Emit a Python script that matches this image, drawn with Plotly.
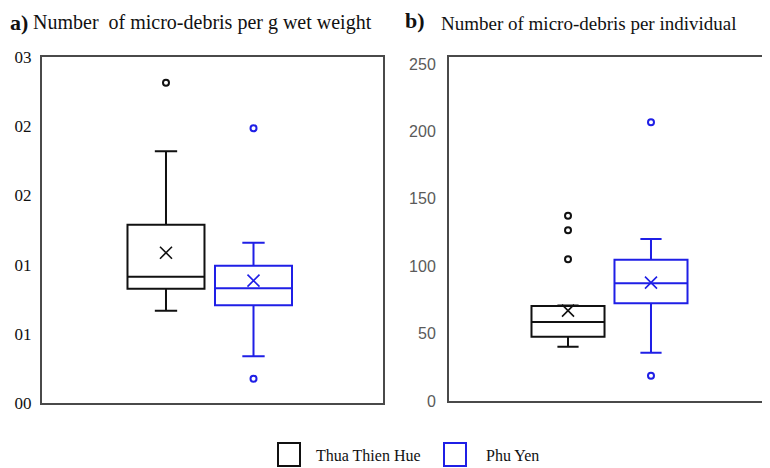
import plotly.graph_objects as go

# ---------------- data ----------------
sites = ["Thua Thien Hue", "Phu Yen"]
colors = ["#111111", "#1f1fe6"]

# panel a: number of micro-debris per g wet weight
a_q1 = [0.00826, 0.00706]
a_median = [0.00913, 0.00829]
a_q3 = [0.01288, 0.00992]
a_lower = [0.00667, 0.00337]
a_upper = [0.01819, 0.01158]
a_mean = [0.01086, 0.00884]
a_outliers = [[0.02314], [0.01985, 0.00176]]
a_tickvals = [0, 0.005, 0.01, 0.015, 0.02, 0.025]
a_ticktext = ["00", "01", "01", "02", "02", "03"]

# panel b: number of micro-debris per individual
b_q1 = [47.7, 72.5]
b_median = [58.6, 87.3]
b_q3 = [70.5, 104.8]
b_lower = [40.3, 35.8]
b_upper = [70.8, 120.2]
b_mean = [67.0, 87.8]
b_outliers = [[137.5, 126.6, 105.1], [206.8, 18.8]]
b_tickvals = [0, 50, 100, 150, 200, 250]

fig = go.Figure()

def add_panel(q1, med, q3, lo, up, mean, outl, xa, ya):
    for i, s in enumerate(sites):
        c = colors[i]
        fig.add_trace(go.Box(
            x=[s], q1=[q1[i]], median=[med[i]], q3=[q3[i]],
            lowerfence=[lo[i]], upperfence=[up[i]],
            name=s, marker_color=c, line=dict(color=c, width=2),
            fillcolor="rgba(255,255,255,0)", whiskerwidth=0.29,
            boxpoints=False, showlegend=False, xaxis=xa, yaxis=ya,
            hoverinfo="skip"))
        fig.add_trace(go.Scatter(
            x=[s], y=[mean[i]], mode="markers",
            marker=dict(symbol="x-thin", size=12, line=dict(color=c, width=1.6), color=c),
            showlegend=False, xaxis=xa, yaxis=ya, hoverinfo="skip"))
        fig.add_trace(go.Scatter(
            x=[s] * len(outl[i]), y=outl[i], mode="markers",
            marker=dict(symbol="circle-open", size=6, line=dict(color=c, width=2), color=c),
            showlegend=False, xaxis=xa, yaxis=ya, hoverinfo="skip"))

add_panel(a_q1, a_median, a_q3, a_lower, a_upper, a_mean, a_outliers, "x", "y")
add_panel(b_q1, b_median, b_q3, b_lower, b_upper, b_mean, b_outliers, "x2", "y2")

OFF = 8  # page body margin
W, H = 770 - OFF, 468 - OFF
L, R, T, B = 42 - OFF, 0, 57 - OFF, 65
pw, ph = W - L - R, H - T - B

def px(xp):  # page pixel -> paper x
    return (xp - OFF - L) / pw

def py(yp):  # page pixel -> paper y
    return (H - B - (yp - OFF)) / ph

frame = "#4a4a4a"
serif = "Liberation Serif"

fig.update_layout(
    width=W, height=H, autosize=False,
    margin=dict(l=L, r=R, t=T, b=B),
    paper_bgcolor="white", plot_bgcolor="white",
    boxgap=0.12, boxgroupgap=0,
    xaxis=dict(domain=[0, px(383)], type="category", categoryorder="array",
               categoryarray=sites, range=[-1.417, 2.48],
               showticklabels=False, ticks="", showgrid=False, zeroline=False,
               showline=True, mirror=True, linecolor=frame, linewidth=2),
    yaxis=dict(domain=[0, 1], range=[0, 0.025], tickvals=a_tickvals, ticktext=a_ticktext,
               tickfont=dict(family=serif, size=17, color="#111"),
               ticks="", ticklabelstandoff=5, showgrid=False, zeroline=False,
               showline=True, mirror=True, linecolor=frame, linewidth=2),
    xaxis2=dict(domain=[px(449), 1], type="category", categoryorder="array",
                categoryarray=sites, range=[-1.434, 2.434], anchor="y2",
                showticklabels=False, ticks="", showgrid=False, zeroline=False,
                showline=True, mirror=True, linecolor=frame, linewidth=2),
    yaxis2=dict(domain=[py(401), 1], range=[0, 255.2], tickvals=b_tickvals, anchor="x2",
                tickfont=dict(family="Liberation Sans", size=16, color="#5a5a5a"),
                ticks="", ticklabelstandoff=8, showgrid=False, zeroline=False,
                showline=True, mirror=False, linecolor=frame, linewidth=2),
    font=dict(family=serif, color="#111"),
)

ann = [
    dict(text="<b>a)</b>", x=px(8), y=py(22),
         xanchor="left", yanchor="middle", font=dict(size=22)),
    dict(text="Number\u00a0\u00a0of micro-debris per g wet weight", x=px(31), y=py(22),
         xanchor="left", yanchor="middle", font=dict(size=20)),
    dict(text="<b>b)</b>", x=px(403), y=py(21),
         xanchor="left", yanchor="middle", font=dict(size=22)),
    dict(text="Number of micro-debris per individual", x=px(439), y=py(23),
         xanchor="left", yanchor="middle", font=dict(size=19)),
    dict(text=sites[0], x=px(314), y=py(455), xanchor="left", yanchor="middle",
         font=dict(size=16)),
    dict(text=sites[1], x=px(484), y=py(455), xanchor="left", yanchor="middle",
         font=dict(size=16)),
]
for a in ann:
    a.update(xref="paper", yref="paper", showarrow=False)
fig.update_layout(annotations=ann)

fig.update_layout(shapes=[
    dict(type="rect", xref="paper", yref="paper", x0=px(278), x1=px(300), y0=py(466), y1=py(443),
         line=dict(color=colors[0], width=2)),
    dict(type="rect", xref="paper", yref="paper", x0=px(444), x1=px(466), y0=py(466), y1=py(443),
         line=dict(color=colors[1], width=2)),
])

fig.write_html("out.html")
